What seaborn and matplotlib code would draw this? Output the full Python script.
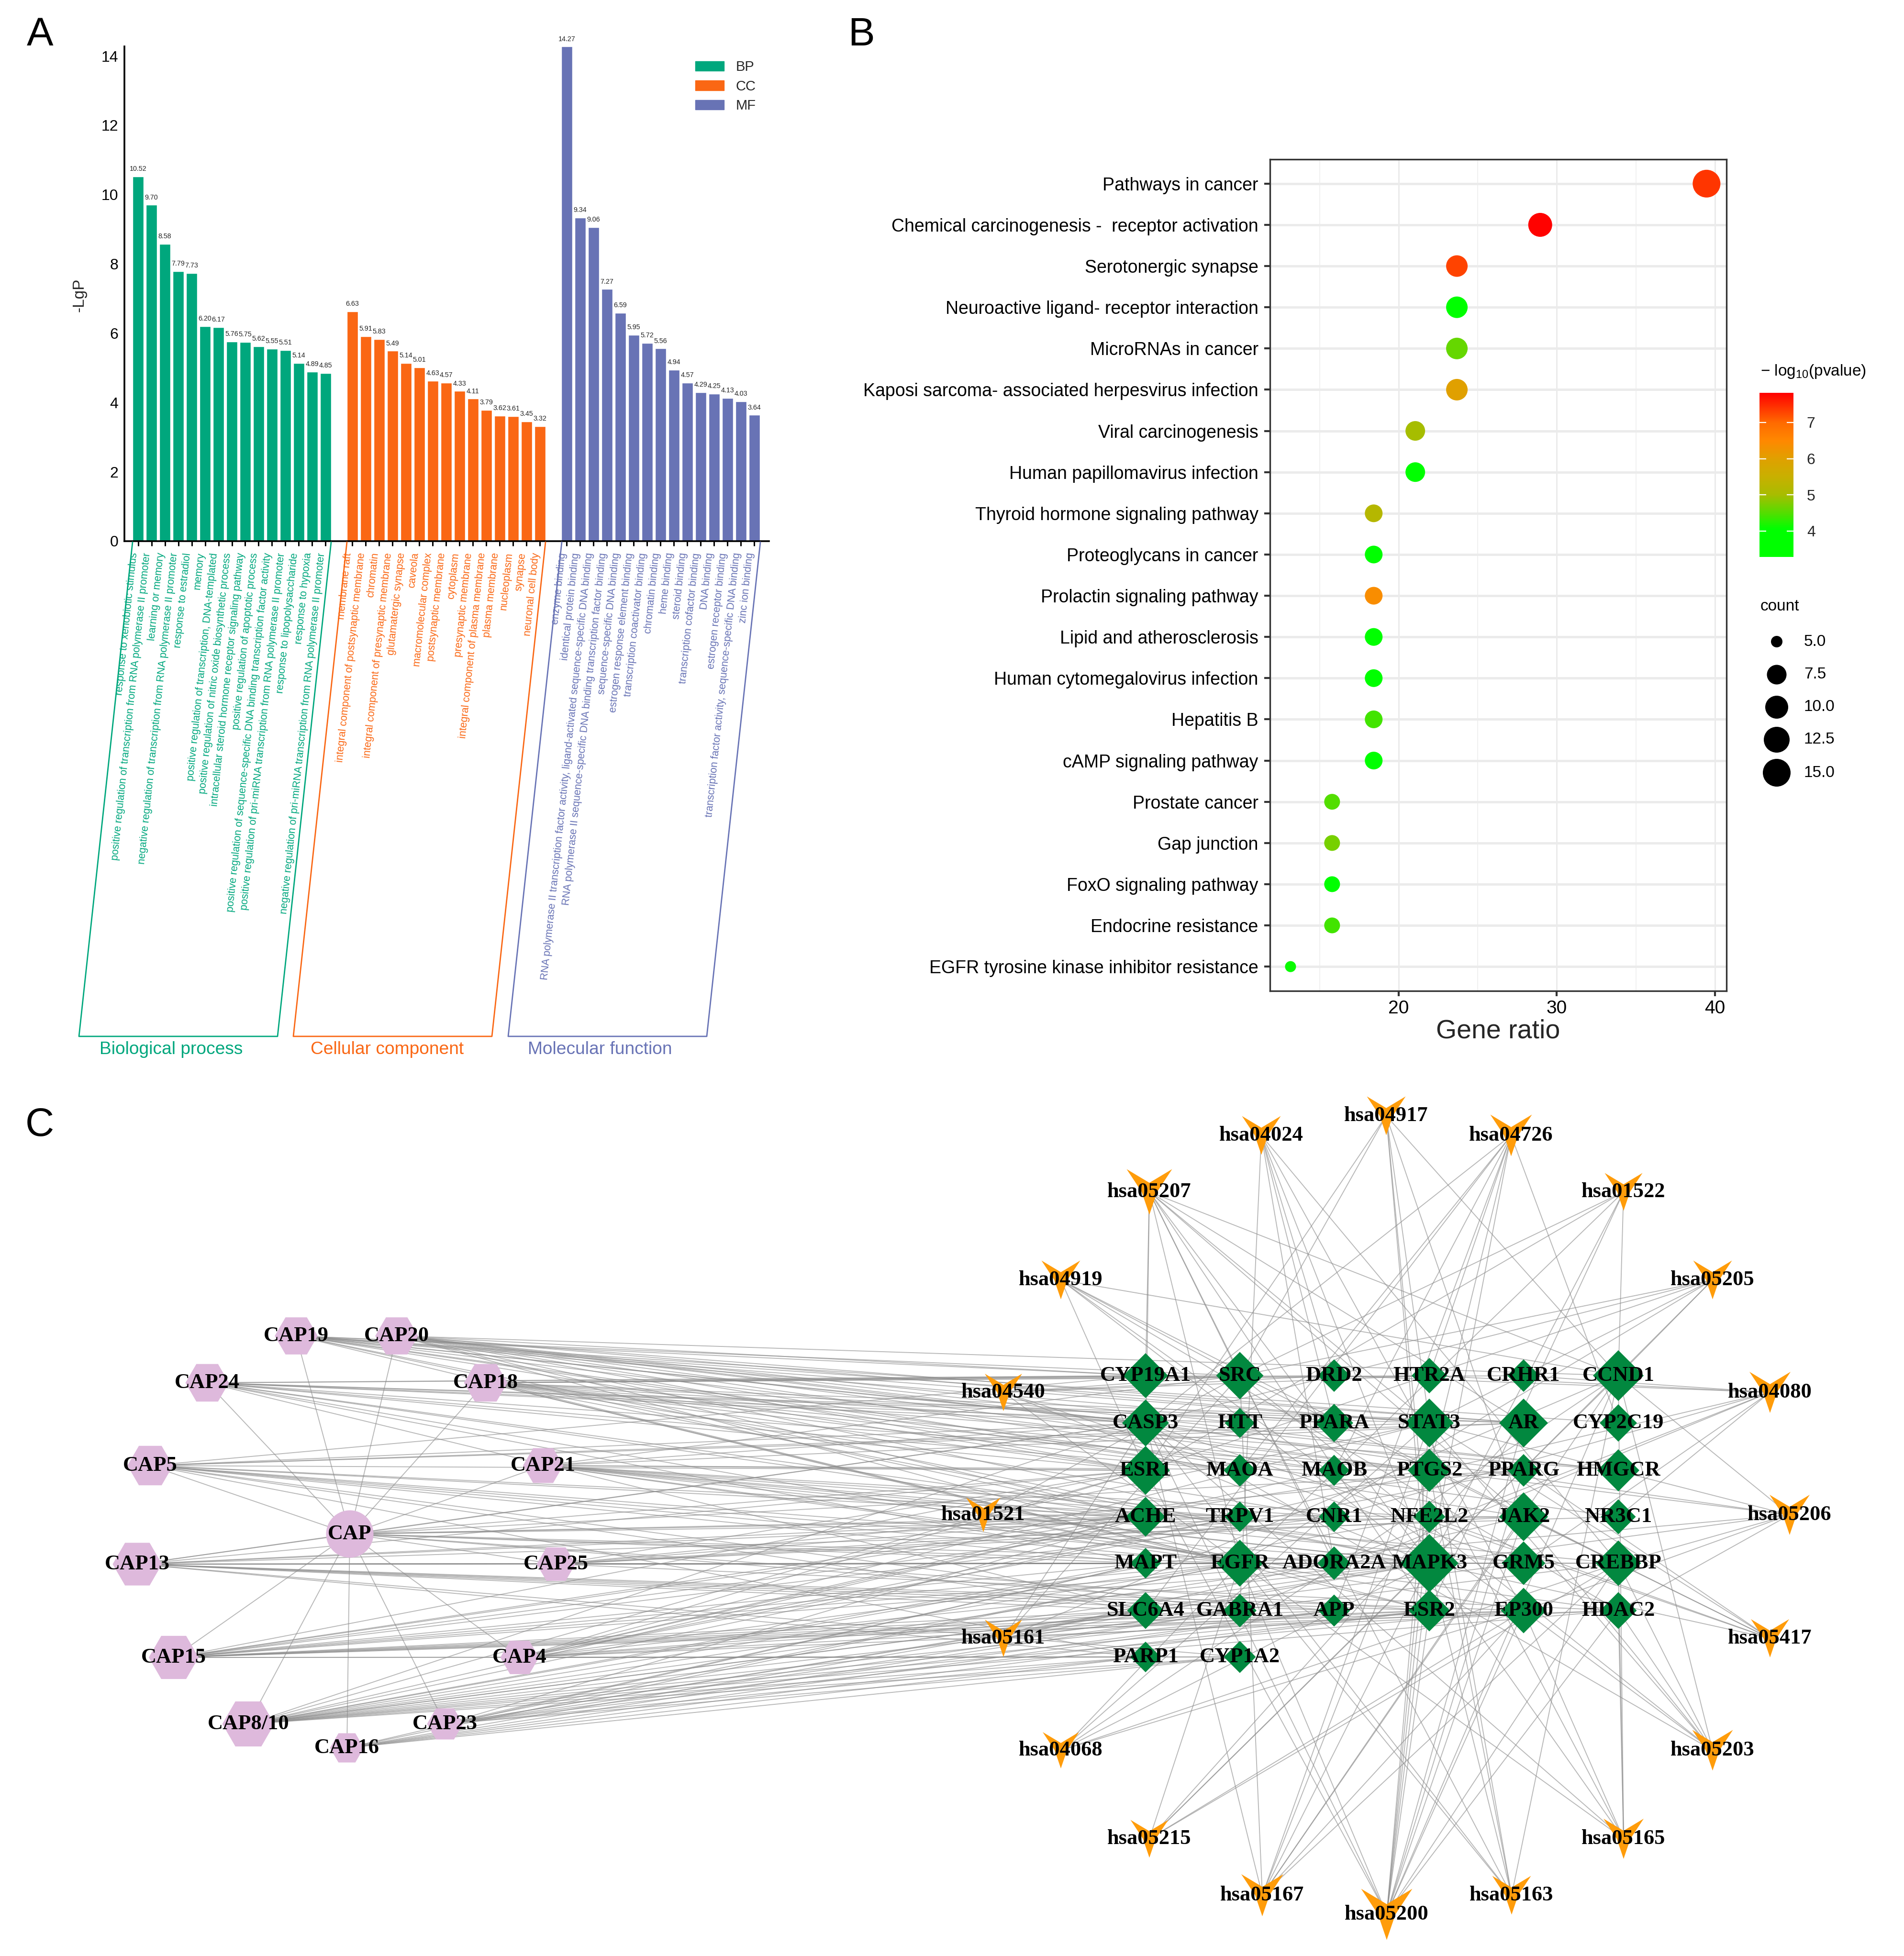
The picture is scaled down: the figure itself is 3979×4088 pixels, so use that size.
import numpy as np
import pandas as pd
import matplotlib
matplotlib.use('Agg')
import matplotlib.pyplot as plt
import matplotlib.patches as mpatches
from matplotlib.collections import LineCollection
from matplotlib.colors import LinearSegmentedColormap, Normalize
from matplotlib.cm import ScalarMappable
from matplotlib.path import Path
from matplotlib.transforms import ScaledTranslation
import seaborn as sns

# panel A, GO enrichment
bp_terms = ['response to xenobiotic stimulus',
            'positive regulation of transcription from RNA polymerase II promoter',
            'learning or memory',
            'negative regulation of transcription from RNA polymerase II promoter',
            'response to estradiol',
            'memory',
            'positive regulation of transcription, DNA-templated',
            'positive regulation of nitric oxide biosynthetic process',
            'intracellular steroid hormone receptor signaling pathway',
            'positive regulation of apoptotic process',
            'positive regulation of sequence-specific DNA binding transcription factor activity',
            'positive regulation of pri-miRNA transcription from RNA polymerase II promoter',
            'response to lipopolysaccharide',
            'response to hypoxia',
            'negative regulation of pri-miRNA transcription from RNA polymerase II promoter']
bp_values = [10.52, 9.70, 8.58, 7.79, 7.73, 6.20, 6.17, 5.76, 5.75, 5.62, 5.55, 5.51, 5.14, 4.89, 4.85]
cc_terms = ['membrane raft', 'integral component of postsynaptic membrane', 'chromatin',
            'integral component of presynaptic membrane', 'glutamatergic synapse', 'caveola',
            'macromolecular complex', 'postsynaptic membrane', 'cytoplasm', 'presynaptic membrane',
            'integral component of plasma membrane', 'plasma membrane', 'nucleoplasm', 'synapse',
            'neuronal cell body']
cc_values = [6.63, 5.91, 5.83, 5.49, 5.14, 5.01, 4.63, 4.57, 4.33, 4.11, 3.79, 3.62, 3.61, 3.45, 3.32]
mf_terms = ['enzyme binding', 'identical protein binding',
            'RNA polymerase II transcription factor activity, ligand-activated sequence-specific DNA binding',
            'RNA polymerase II sequence-specific DNA binding transcription factor binding',
            'sequence-specific DNA binding', 'estrogen response element binding',
            'transcription coactivator binding', 'chromatin binding', 'heme binding', 'steroid binding',
            'transcription cofactor binding', 'DNA binding', 'estrogen receptor binding',
            'transcription factor activity, sequence-specific DNA binding', 'zinc ion binding']
mf_values = [14.27, 9.34, 9.06, 7.27, 6.59, 5.95, 5.72, 5.56, 4.94, 4.57, 4.29, 4.25, 4.13, 4.03, 3.64]

# panel B, KEGG dot plot
kegg_terms = ['Pathways in cancer', 'Chemical carcinogenesis -  receptor activation', 'Serotonergic synapse',
              'Neuroactive ligand- receptor interaction', 'MicroRNAs in cancer',
              'Kaposi sarcoma- associated herpesvirus infection', 'Viral carcinogenesis',
              'Human papillomavirus infection', 'Thyroid hormone signaling pathway', 'Proteoglycans in cancer',
              'Prolactin signaling pathway', 'Lipid and atherosclerosis', 'Human cytomegalovirus infection',
              'Hepatitis B', 'cAMP signaling pathway', 'Prostate cancer', 'Gap junction',
              'FoxO signaling pathway', 'Endocrine resistance', 'EGFR tyrosine kinase inhibitor resistance']
kegg_ratio = [39.47, 28.95, 23.68, 23.68, 23.68, 23.68, 21.05, 21.05, 18.42, 18.42,
              18.42, 18.42, 18.42, 18.42, 18.42, 15.79, 15.79, 15.79, 15.79, 13.16]
kegg_count = [15, 11, 9, 9, 9, 9, 8, 8, 7, 7, 7, 7, 7, 7, 7, 6, 6, 6, 6, 5]
kegg_logp = [7.4, 7.8, 7.3, 3.9, 4.6, 6.0, 5.0, 3.9, 5.2, 4.0, 6.4, 4.0, 4.05, 4.4, 4.05, 4.5, 4.7, 4.05, 4.4, 4.1]
count_diam = {5: 23, 6: 33, 7: 37, 8: 41, 9: 45, 11: 50, 15: 58}
legend_counts = ['5.0', '7.5', '10.0', '12.5', '15.0']
legend_diam = [24, 41, 48, 54, 58]

# panel C, network nodes (x, y in picture pixels are the layout)
gene_names = ['CYP19A1', 'SRC', 'DRD2', 'HTR2A', 'CRHR1', 'CCND1',
              'CASP3', 'HTT', 'PPARA', 'STAT3', 'AR', 'CYP2C19',
              'ESR1', 'MAOA', 'MAOB', 'PTGS2', 'PPARG', 'HMGCR',
              'ACHE', 'TRPV1', 'CNR1', 'NFE2L2', 'JAK2', 'NR3C1',
              'MAPT', 'EGFR', 'ADORA2A', 'MAPK3', 'GRM5', 'CREBBP',
              'SLC6A4', 'GABRA1', 'APP', 'ESR2', 'EP300', 'HDAC2',
              'PARP1', 'CYP1A2']
gene_x = [2394, 2591, 2788, 2987, 3184, 3382] * 6 + [2394, 2591]
gene_y = [2875] * 6 + [2974] * 6 + [3073] * 6 + [3170] * 6 + [3267] * 6 + [3366] * 6 + [3463] * 2
gene_size = [94, 99, 68, 74, 68, 106,
             98, 63, 80, 102, 102, 78,
             102, 68, 65, 90, 68, 88,
             83, 64, 64, 67, 102, 73,
             64, 98, 70, 122, 91, 95,
             77, 70, 67, 87, 95, 77,
             64, 67]

hsa_names = ['hsa04024', 'hsa04917', 'hsa04726', 'hsa05207', 'hsa01522', 'hsa04919', 'hsa05205',
             'hsa04540', 'hsa04080', 'hsa01521', 'hsa05206', 'hsa05161', 'hsa05417', 'hsa04068',
             'hsa05203', 'hsa05215', 'hsa05165', 'hsa05167', 'hsa05163', 'hsa05200']
hsa_x = [2636, 2897, 3158, 2402, 3393, 2217, 3579, 2097, 3699, 2055, 3740, 2097, 3699, 2217,
         3579, 2402, 3393, 2638, 3159, 2898]
hsa_y = [2373, 2332, 2373, 2491, 2491, 2675, 2675, 2910, 2910, 3166, 3166, 3424, 3424, 3658,
         3658, 3843, 3843, 3961, 3961, 4001]
hsa_size = [81, 81, 87, 95, 79, 81, 81, 78, 86, 72, 84, 78, 80, 76, 85, 79, 84, 88, 81, 107]
hsa_links = ['ADORA2A DRD2 GABRA1 MAPK3 PPARA CREBBP EP300',
             'CCND1 ESR1 ESR2 JAK2 MAPK3 SRC STAT3',
             'HTR2A MAOA MAOB MAPK3 PTGS2 CASP3 APP SLC6A4 CYP2C19',
             'ADORA2A ESR1 ESR2 AR SRC MAPK3 EGFR JAK2 STAT3 CCND1 CYP19A1',
             'CCND1 EGFR ESR1 ESR2 MAPK3 SRC',
             'ESR1 HDAC2 MAPK3 CCND1 SRC EP300 CREBBP',
             'CASP3 CCND1 EGFR ESR1 MAPK3 SRC STAT3',
             'DRD2 EGFR HTR2A MAPK3 SRC GRM5',
             'DRD2 HTR2A CRHR1 CNR1 ADORA2A GRM5 GABRA1 NR3C1 TRPV1',
             'EGFR JAK2 MAPK3 SRC STAT3',
             'EGFR PTGS2 CASP3 STAT3 CCND1 EP300 CREBBP HDAC2 MAPK3',
             'CASP3 CCND1 CREBBP EP300 JAK2 MAPK3 SRC',
             'CASP3 JAK2 MAPK3 NFE2L2 PPARG SRC STAT3',
             'CCND1 CREBBP EGFR EP300 MAPK3 STAT3',
             'CASP3 CCND1 CREBBP EP300 HDAC2 JAK2 SRC STAT3',
             'AR CCND1 CREBBP EGFR EP300 MAPK3',
             'CCND1 CREBBP EGFR EP300 HDAC2 MAPK3 PTGS2 CASP3',
             'CCND1 CREBBP EP300 JAK2 MAPK3 STAT3 PTGS2 CASP3 SRC',
             'CASP3 CCND1 EGFR MAPK3 PTGS2 SRC STAT3',
             'ESR1 ESR2 EGFR MAPK3 STAT3 JAK2 PTGS2 CASP3 CCND1 EP300 CREBBP AR PPARG HDAC2 NFE2L2']

cap_names = ['CAP19', 'CAP20', 'CAP24', 'CAP18', 'CAP5', 'CAP21', 'CAP', 'CAP13', 'CAP25', 'CAP15',
             'CAP4', 'CAP8/10', 'CAP23', 'CAP16']
cap_x = [619, 829, 433, 1015, 314, 1135, 731, 287, 1162, 363, 1086, 519, 930, 725]
cap_y = [2792, 2792, 2890, 2890, 3063, 3063, 3206, 3269, 3269, 3464, 3464, 3603, 3603, 3653]
cap_size = [80, 80, 81, 81, 85, 75, 99, 92, 72, 93, 72, 97, 67, 63]
cap_links = ['CYP19A1 SRC CASP3 ESR1 ACHE PPARA STAT3 AR PTGS2 MAOA HMGCR CYP2C19 NR3C1 MAPK3 EGFR',
             'CYP19A1 CASP3 ESR1 ACHE HTT MAOB STAT3 AR PTGS2 PPARG HMGCR TRPV1 JAK2 ESR2 CCND1',
             'CYP19A1 DRD2 CASP3 ESR1 ACHE HTT MAOA STAT3 PTGS2 AR MAPT GRM5 EP300 SLC6A4',
             'CYP19A1 SRC HTR2A CASP3 ESR1 PPARA MAOA MAOB AR PTGS2 HMGCR CNR1 EGFR MAPK3 ESR2 CRHR1',
             'CYP19A1 CASP3 ESR1 ACHE TRPV1 MAPT EGFR ADORA2A MAPK3 SLC6A4 GABRA1 PARP1 AR STAT3',
             'CASP3 ESR1 ACHE TRPV1 CNR1 NFE2L2 MAPK3 EGFR SRC AR PTGS2 GRM5 HDAC2 CREBBP',
             'CASP3 ESR1 ACHE MAPT EGFR TRPV1 MAPK3 APP ESR2 PPARG JAK2',
             'ACHE TRPV1 MAPT EGFR ADORA2A MAPK3 SLC6A4 GABRA1 PARP1 CYP1A2 ESR1 CASP3 APP GRM5 NR3C1 ESR2 EP300 CREBBP',
             'ACHE MAPT EGFR ADORA2A MAPK3 GRM5 CREBBP ESR1 CNR1 NFE2L2 JAK2 PPARG HDAC2',
             'MAPT SLC6A4 GABRA1 APP PARP1 CYP1A2 EGFR MAPK3 ESR2 EP300 ACHE TRPV1 CNR1 ADORA2A HDAC2 ESR1 PTGS2',
             'ACHE TRPV1 EGFR MAPK3 SLC6A4 GABRA1 ESR2 HDAC2 PARP1 CYP1A2 ESR1 STAT3 MAOB PPARG',
             'ACHE MAPT EGFR SLC6A4 GABRA1 APP ESR2 PARP1 CYP1A2 MAPK3 ADORA2A EP300 HDAC2 TRPV1 ESR1 CASP3 NFE2L2 GRM5',
             'SLC6A4 GABRA1 APP ESR2 CYP1A2 PARP1 EGFR MAPK3 MAPT ACHE',
             'MAPT SLC6A4 GABRA1 EGFR ESR2 CYP1A2 PARP1 APP']

W, H = 3979, 4088
TO_PT = 72 / 100
GREEN, ORANGE, BLUE = '#00A77D', '#FA6714', '#6873B5'


def axAt(left, top, right, bottom):
    return plt.gcf().add_axes([left / W, 1 - bottom / H, (right - left) / W, (bottom - top) / H])


def area(px):
    return (np.asarray(px, dtype=float) * TO_PT) ** 2


sns.set_theme(style='white')
plt.rcParams['font.family'] = ['Liberation Sans', 'DejaVu Sans']
plt.rcParams['mathtext.default'] = 'regular'
fig = plt.figure(figsize=(W / 100, H / 100), dpi=100)

# ---- panel A
ax = axAt(260, 97.5, 1607, 1131)
go_terms = bp_terms + cc_terms + mf_terms
go_df = pd.DataFrame({
    'pos': list(range(0, 15)) + list(range(16, 31)) + list(range(32, 47)),
    'value': bp_values + cc_values + mf_values,
    'group': ['BP'] * 15 + ['CC'] * 15 + ['MF'] * 15,
})
go_colors = {'BP': GREEN, 'CC': ORANGE, 'MF': BLUE}
sns.barplot(data=go_df, x='pos', y='value', hue='group', palette=go_colors, native_scale=True,
            dodge=False, width=0.82, saturation=1, legend=False, ax=ax)
ax.set_xlim(-1.018, 47.09)
ax.set_ylim(0, 14.27)
ax.set_xlabel('')
ax.set_ylabel('-LgP', fontsize=24)
ax.yaxis.set_label_coords(-0.058, 0.498)
ax.set_yticks(range(0, 15, 2))
ax.tick_params(axis='y', length=0, pad=9, labelsize=23, colors='black')
ax.set_xticks(go_df['pos'], go_terms, rotation=84, ha='right', va='center', rotation_mode='anchor', fontsize=15.5)
ax.tick_params(axis='x', bottom=True, length=7.5, width=2.2, pad=10, color='black')
shift = ScaledTranslation(-8 * TO_PT / 72, 0, fig.dpi_scale_trans)
for lab, grp in zip(ax.get_xticklabels(), go_df['group']):
    lab.set_color(go_colors[grp])
    lab.set_transform(lab.get_transform() + shift)
sns.despine(ax=ax)
ax.spines['left'].set_linewidth(2.6)
ax.spines['bottom'].set_linewidth(2.6)
ax.spines['left'].set_color('black')
ax.spines['bottom'].set_color('black')
for p, v in zip(go_df['pos'], go_df['value']):
    ax.annotate(f'{v:.2f}', (p, v), xytext=(0, 8.5), textcoords='offset points', ha='center', va='baseline',
                fontsize=10.3, color='#222222')
ax.legend(handles=[mpatches.Patch(color=c, label=k) for k, c in go_colors.items()], loc='upper left',
          bbox_to_anchor=(0.886, 0.972), frameon=False, fontsize=21, handlelength=2.05, handleheight=0.7,
          handletextpad=0.82, labelspacing=0.42, borderpad=0, borderaxespad=0)

# ---- panel B
ax = axAt(2654, 333, 3608, 2071)
kegg_df = pd.DataFrame({'term': kegg_terms, 'ratio': kegg_ratio, 'count': kegg_count, 'logp': kegg_logp})
lo, hi = 3.28, 7.82
stops = [(3.28, '#00FF00'), (4.05, '#00FF00'), (4.5, '#55DD00'), (5.0, '#A8BC00'), (5.5, '#C8B000'),
         (6.0, '#E0A000'), (6.5, '#FF8800'), (7.0, '#FF6A00'), (7.82, '#FF0000')]
pcmap = LinearSegmentedColormap.from_list('pv', [((v - lo) / (hi - lo), c) for v, c in stops])
pnorm = Normalize(lo, hi)
ax.set_axisbelow(True)
ax.set_xticks([15, 25, 35], minor=True)
ax.grid(True, which='major', axis='y', color='#EBEBEB', lw=3.6)
ax.grid(True, which='major', axis='x', color='#EBEBEB', lw=2.2)
ax.grid(True, which='minor', axis='x', color='#F0F0F0', lw=1.4)
sns.scatterplot(data=kegg_df, x='ratio', y='term', hue='logp', palette=pcmap, hue_norm=pnorm,
                size='count', sizes={k: float(area(d)) for k, d in count_diam.items()},
                linewidth=0, legend=False, ax=ax, zorder=3)
ax.set_xlim(11.86, 40.73)
ax.set_ylim(19.59, -0.59)
ax.set_xticks([20, 30, 40])
ax.set_xlabel('Gene ratio', fontsize=40, labelpad=2)
ax.set_ylabel('')
ax.tick_params(axis='y', left=True, length=9, width=3, pad=8.5, labelsize=27, color='#333333', labelcolor='black')
ax.tick_params(axis='x', which='major', bottom=True, length=8, width=3, pad=6, labelsize=28, color='#333333', labelcolor='black')
ax.tick_params(axis='x', which='minor', length=0)
for s in ax.spines.values():
    s.set_color('#333333')
    s.set_linewidth(2.4)

# colour bar of panel B
cax = axAt(3677, 821, 3748, 1164)
cb = fig.colorbar(ScalarMappable(norm=pnorm, cmap=pcmap), cax=cax)
cb.outline.set_visible(False)
cb.set_ticks([4, 5, 6, 7])
cax.tick_params(length=0, pad=20, labelsize=23)
cax.hlines([4, 5, 6, 7], 0, 0.2, color='white', lw=1.6)
cax.hlines([4, 5, 6, 7], 0.8, 1, color='white', lw=1.6)

# ---- overlay in picture pixels, panel letters, GO boxes, legend of B and the network
ov = axAt(0, 0, W, H)
ov.patch.set_alpha(0)

for name, left, top_l, right, colour, text_x in [('Biological process', 165, 277, 580, GREEN, 358),
                                                 ('Cellular component', 613, 725, 1028, ORANGE, 809),
                                                 ('Molecular function', 1062, 1174, 1477, BLUE, 1254)]:
    ov.plot([top_l, left, right, top_l + 415], [1133, 2166, 2166, 1133], color=colour, lw=2.0)
    t = ov.text(text_x, 2203, name, color=colour, fontsize=26.7, ha='center', va='baseline')
    # the group names are cut at the bottom in the original
    t.set_clip_path(mpatches.Rectangle((0, 2100), W, 100, transform=ov.transData))

for letter, lx, ly in [('A', 84, 73), ('B', 1800, 73), ('C', 83, 2352)]:
    ov.text(lx, ly, letter, fontsize=60, ha='center', va='center', color='black')

ov.text(3679, 777, r'$-$ log$_{10}$(pvalue)', fontsize=24, ha='left', va='center', color='black')
ov.text(3679, 1268, 'count', fontsize=24, ha='left', va='center', color='black')
leg_y = [1341, 1410, 1478, 1546, 1615]
sns.scatterplot(x=[3713] * 5, y=leg_y, color='black', s=area(legend_diam), linewidth=0, legend=False, ax=ov)
for lab, yy in zip(legend_counts, leg_y):
    ov.text(3770, yy, lab, fontsize=24, ha='left', va='center', color='black')

# network
gene_pos = dict(zip(gene_names, zip(gene_x, gene_y)))
cap_pos = dict(zip(cap_names, zip(cap_x, cap_y)))
segments = []
for xx, yy, links in zip(hsa_x, hsa_y, hsa_links):
    segments += [[(xx, yy), gene_pos[g]] for g in links.split()]
for xx, yy, links in zip(cap_x, cap_y, cap_links):
    segments += [[(xx, yy), gene_pos[g]] for g in links.split()]
segments += [[cap_pos['CAP'], cap_pos[c]] for c in cap_names if c != 'CAP']
ov.add_collection(LineCollection(segments, colors='#8C8C8C', linewidths=1.35, alpha=0.62, zorder=1))

diamond = Path([(-.5, 0), (0, .5), (.5, 0), (0, -.5), (-.5, 0)], closed=True)
vee = Path([(-.5, .5), (0, .2), (.5, .5), (.17, 0), (0, -.5), (-.17, 0), (-.5, .5)], closed=True)
sns.scatterplot(x=gene_x, y=gene_y, marker=diamond, color='#02883F', s=area(gene_size), linewidth=0,
                edgecolor='none', legend=False, ax=ov, zorder=2)
sns.scatterplot(x=hsa_x, y=hsa_y, marker=vee, color='#FF9C0A', s=area(hsa_size), linewidth=0,
                edgecolor='none', legend=False, ax=ov, zorder=2)
hex_names = [i for i, c in enumerate(cap_names) if c != 'CAP']
sns.scatterplot(x=[cap_x[i] for i in hex_names], y=[cap_y[i] for i in hex_names], marker='H', color='#DEB9DC',
                s=area([cap_size[i] * 1.12 for i in hex_names]), linewidth=0, edgecolor='none', legend=False,
                ax=ov, zorder=2)
i = cap_names.index('CAP')
sns.scatterplot(x=[cap_x[i]], y=[cap_y[i]], marker='o', color='#DEB9DC', s=float(area(cap_size[i])), linewidth=0,
                edgecolor='none', legend=False, ax=ov, zorder=2)
for names, xs, ys in [(gene_names, gene_x, gene_y), (hsa_names, hsa_x, hsa_y), (cap_names, cap_x, cap_y)]:
    for n, xx, yy in zip(names, xs, ys):
        ov.text(xx, yy, n, family='Liberation Serif', fontweight='bold', fontsize=32, ha='center', va='center',
                color='black', zorder=3)

ov.set_xlim(0, W)
ov.set_ylim(H, 0)
ov.set_axis_off()

fig.savefig('out.png', dpi=100, facecolor='white')
